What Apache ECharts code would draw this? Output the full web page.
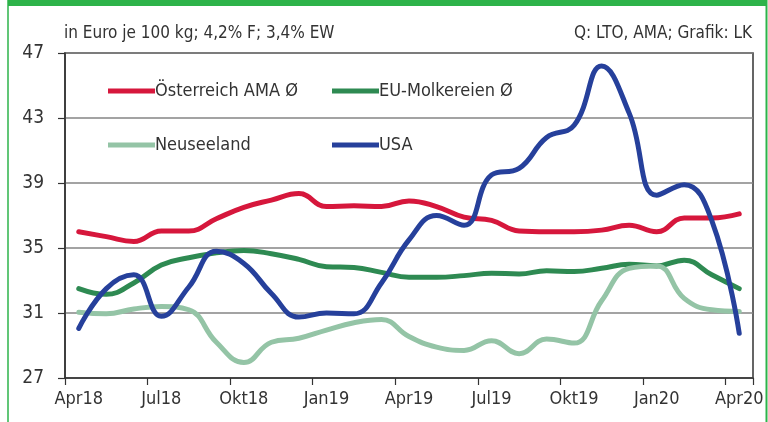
<!DOCTYPE html>
<html>
<head>
<meta charset="utf-8">
<script src="https://cdn.jsdelivr.net/npm/echarts@6/dist/echarts.min.js"></script>
<style>
  html, body { margin: 0; padding: 0; background: #fff; }
  #chart { width: 768px; height: 422px; }
</style>
</head>
<body>
<div id="chart"></div>
<script>
// Monate Apr18 .. Apr20
const months = ['Apr18', 'Mai18', 'Jun18', 'Jul18', 'Aug18', 'Sep18', 'Okt18', 'Nov18', 'Dez18',
  'Jan19', 'Feb19', 'Mär19', 'Apr19', 'Mai19', 'Jun19', 'Jul19', 'Aug19', 'Sep19', 'Okt19',
  'Nov19', 'Dez19', 'Jan20', 'Feb20', 'Mär20', 'Apr20'];

const austria = [36.0, 35.7, 35.4, 36.05, 36.05, 36.8, 37.5, 37.95, 38.35, 37.55, 37.6, 37.55, 37.9,
  37.55, 36.9, 36.7, 36.05, 36.0, 36.0, 36.1, 36.4, 36.0, 36.85, 36.85, 37.1];
const euDairies = [32.5, 32.15, 32.85, 33.95, 34.4, 34.7, 34.85, 34.65, 34.3, 33.85, 33.8, 33.5, 33.2,
  33.2, 33.3, 33.45, 33.4, 33.6, 33.55, 33.75, 34.0, 33.9, 34.25, 33.35, 32.5];
const newZealand = [31.05, 30.95, 31.25, 31.4, 31.2, 29.2, 27.95, 29.2, 29.45, 29.95, 30.4, 30.6, 29.55,
  28.9, 28.7, 29.3, 28.5, 29.4, 29.15, 31.75, 33.75, 33.9, 31.9, 31.2, 31.1];
const usa = [30.05, 32.5, 33.35, 30.8, 32.6, 34.8, 34.05, 32.2, 30.75, 31.0, 30.95, 32.85, 35.5,
  37.0, 36.4, 39.5, 39.9, 41.8, 42.55, 46.2, 43.3, 38.25, 38.9, 36.7, 29.75];

const seriesNames = ['Österreich AMA Ø', 'EU-Molkereien Ø', 'Neuseeland', 'USA'];
const seriesColors = ['#d6173c', '#2e8a52', '#94c4a6', '#26409b'];
const seriesData = [austria, euDairies, newZealand, usa];

const yMin = 27, yMax = 47, yStep = 4;

const FONT = "'Liberation Sans Narrow', 'DejaVu Sans Condensed', sans-serif";
const TEXT = '#333333';
const FRAME = '#2db34a';

const chart = echarts.init(document.getElementById('chart'));

// eine Legende je Eintrag, damit die Positionen passen
const legendPos = [[103, 77], [327, 77], [103, 131], [327, 131]];
const legends = seriesNames.map((n, i) => ({
  data: [n],
  left: legendPos[i][0],
  top: legendPos[i][1],
  icon: 'rect',
  itemWidth: 47,
  itemHeight: 5,
  itemGap: 0,
  selectedMode: false,
  textStyle: {fontFamily: FONT, fontSize: 18, color: TEXT, padding: [0, 0, 0, -5]}
}));

const option = {
  animation: false,
  backgroundColor: '#fff',
  title: [
    {text: 'in Euro je 100 kg; 4,2% F; 3,4% EW', left: 64, top: 25, padding: 0,
      textStyle: {fontFamily: FONT, fontSize: 17, fontWeight: 'normal', color: TEXT}},
    {text: 'Q: LTO, AMA; Grafik: LK', right: 16, top: 25, padding: 0,
      textStyle: {fontFamily: FONT, fontSize: 17, fontWeight: 'normal', color: TEXT}}
  ],
  legend: legends,
  grid: {
    left: 65, right: 15, top: 53, bottom: 44,
    show: true, borderColor: '#333', borderWidth: 1.5, backgroundColor: 'transparent'
  },
  xAxis: {
    type: 'category',
    data: months,
    boundaryGap: true,
    axisLine: {lineStyle: {color: '#333', width: 1.5}},
    axisTick: {show: true, interval: 2, length: 7, lineStyle: {color: '#333', width: 1.2}},
    axisLabel: {interval: 2, margin: 12, fontFamily: FONT, fontSize: 18, color: TEXT},
    splitLine: {show: false}
  },
  yAxis: {
    type: 'value',
    min: yMin, max: yMax, interval: yStep,
    axisLine: {show: true, lineStyle: {color: '#333', width: 1.5}},
    axisTick: {show: true, length: 7, lineStyle: {color: '#333', width: 1.2}},
    axisLabel: {margin: 21, fontFamily: FONT, fontSize: 19, color: TEXT},
    splitLine: {show: true, lineStyle: {color: '#858585', width: 1.5}}
  },
  series: seriesNames.map((n, i) => ({
    name: n,
    type: 'line',
    data: seriesData[i],
    smooth: 0.45,
    showSymbol: false,
    symbol: 'none',
    color: seriesColors[i],
    lineStyle: {color: seriesColors[i], width: 5, cap: 'round', join: 'round'}
  })),
  graphic: [
    // gruener Rahmen mit Titelbalken
    {type: 'rect', shape: {x: 8, y: 0, width: 759, height: 6}, style: {fill: FRAME}, silent: true},
    {type: 'line', shape: {x1: 8, y1: 0, x2: 8, y2: 422}, style: {stroke: FRAME, lineWidth: 1.5}, silent: true},
    {type: 'line', shape: {x1: 766.5, y1: 0, x2: 766.5, y2: 422}, style: {stroke: FRAME, lineWidth: 2}, silent: true}
  ]
};

chart.setOption(option);
</script>
</body>
</html>
